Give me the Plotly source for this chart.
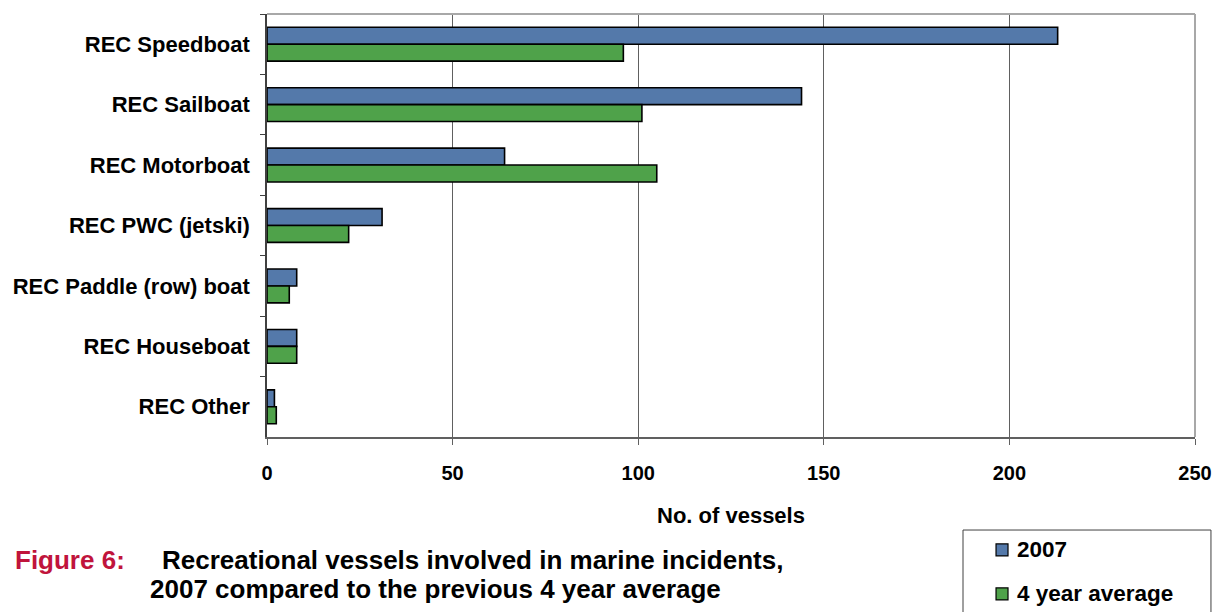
import plotly.graph_objects as go

categories = [
    "REC Speedboat",
    "REC Sailboat",
    "REC Motorboat",
    "REC PWC (jetski)",
    "REC Paddle (row) boat",
    "REC Houseboat",
    "REC Other",
]
vessels_2007 = [213, 144, 64, 31, 8, 8, 2]
vessels_4yr_avg = [96, 101, 105, 22, 6, 8, 2.5]
x_ticks = [0, 50, 100, 150, 200, 250]

series_names = ["2007", "4 year average"]
series_colors = ["#5479AA", "#4FA24A"]

FONT = "Liberation Sans, Arial, sans-serif"
BOLD = dict(family=FONT, color="#000000", weight="bold")

fig = go.Figure()
for name, vals, col in zip(series_names, [vessels_2007, vessels_4yr_avg], series_colors):
    fig.add_trace(go.Bar(
        y=categories, x=vals, orientation="h", name=name,
        marker=dict(color=col, line=dict(color="#000000", width=1.6)),
    ))

# Legend box drawn below the plot, to the right (paper coordinates)
legend_shapes = [
    dict(type="rect", xref="paper", yref="paper", x0=0.75, x1=1.0172, y0=-0.42, y1=-0.2199,
         line=dict(color="#404040", width=1), fillcolor="white"),
]
legend_annots = []
for i, (name, col) in enumerate(zip(series_names, series_colors)):
    yc = -0.267 - i * 0.104
    legend_shapes.append(dict(
        type="rect", xref="paper", yref="paper",
        x0=0.7856, x1=0.7985, y0=yc - 0.0142, y1=yc + 0.0142,
        line=dict(color="#000000", width=1.2), fillcolor=col,
    ))
    legend_annots.append(dict(
        xref="paper", yref="paper", x=0.806, y=yc, xanchor="left", yanchor="middle",
        text=name, showarrow=False, font=dict(**BOLD, size=22.5),
    ))

frame_shapes = [
    dict(type="line", xref="paper", yref="paper", x0=0, x1=1, y0=1, y1=1,
         line=dict(color="#A8A8A8", width=2)),
    dict(type="line", xref="paper", yref="paper", x0=1, x1=1, y0=0, y1=1,
         line=dict(color="#A8A8A8", width=2)),
]

title_annots = [
    dict(xref="paper", yref="paper", x=-0.2737, y=-0.2908, xanchor="left", yanchor="middle",
         text="Figure 6:", showarrow=False,
         font=dict(family=FONT, size=26, color="#C0143C", weight="bold")),
    dict(xref="paper", yref="paper", x=-0.1153, y=-0.2908, xanchor="left", yanchor="middle",
         text="Recreational vessels involved in marine incidents,", showarrow=False,
         font=dict(**BOLD, size=26)),
    dict(xref="paper", yref="paper", x=-0.1282, y=-0.3593, xanchor="left", yanchor="middle",
         text="2007 compared to the previous 4 year average", showarrow=False,
         font=dict(**BOLD, size=26)),
    dict(xref="paper", yref="paper", x=0.5, y=-0.1844, xanchor="center", yanchor="middle",
         text="No. of vessels", showarrow=False, font=dict(**BOLD, size=22)),
]

fig.update_layout(
    width=1214, height=612,
    margin=dict(l=267, r=19, t=14, b=175),
    paper_bgcolor="white", plot_bgcolor="white",
    barmode="group", bargap=0.44, bargroupgap=0,
    font=dict(family=FONT, color="#000000"),
    showlegend=False,
    xaxis=dict(
        range=[0, 250], tickvals=x_ticks, ticktext=[str(v) for v in x_ticks],
        showgrid=True, gridcolor="#606060", gridwidth=1,
        showline=True, linecolor="#606060", linewidth=2,
        ticks="outside", ticklen=6, tickcolor="#606060",
        tickfont=dict(**BOLD, size=20),
        ticklabelstandoff=11,
        zeroline=False, automargin=False,
    ),
    yaxis=dict(
        autorange="reversed",
        showline=True, linecolor="#404040", linewidth=1.5,
        ticks="outside", ticklen=5, tickcolor="#404040",
        tickson="boundaries",
        tickfont=dict(**BOLD, size=22),
        ticklabelstandoff=11, automargin=False,
    ),
    shapes=frame_shapes + legend_shapes,
    annotations=title_annots + legend_annots,
)

fig.write_html("out.html")
